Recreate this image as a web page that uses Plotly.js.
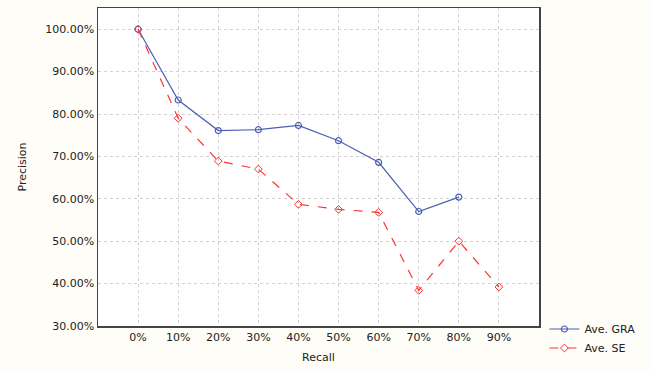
<!DOCTYPE html>
<html><head><meta charset="utf-8">
<script src="https://cdn.plot.ly/plotly-3.0.1.min.js"></script>
<style>html,body{margin:0;padding:0;background:#fffdf7;}#chart{width:652px;height:370px;}</style>
</head><body><div id="chart"></div>
<script>
var recall = ["0%","10%","20%","30%","40%","50%","60%","70%","80%","90%"];
var graValues = [100.0, 83.3, 76.1, 76.3, 77.3, 73.7, 68.6, 57.0, 60.4, null];
var seValues = [100.0, 79.0, 68.9, 67.0, 58.7, 57.5, 56.8, 38.4, 50.0, 39.2];
var yTicks = [30,40,50,60,70,80,90,100];
var yTickText = yTicks.map(function(v){return v.toFixed(2)+"%";});

var font = {family: "DejaVu Sans, Verdana, sans-serif", size: 11, color: "#222"};
var traces = [
  {x: recall, y: graValues, name: "Ave. GRA", type: "scatter", mode: "lines+markers",
   line: {color: "#4a5fb5", width: 1.2}, marker: {symbol: "circle-open", size: 6, color: "#4a5fb5", line:{width:1.2}}},
  {x: recall, y: seValues, name: "Ave. SE", type: "scatter", mode: "lines+markers",
   line: {color: "#ff3333", width: 1.2, dash: "dash"}, marker: {symbol: "diamond-open", size: 6, color: "#ff3333", line:{width:1}}}
];
var layout = {
  width: 652, height: 370,
  paper_bgcolor: "#fffdf7", plot_bgcolor: "#ffffff",
  margin: {l: 98, r: 113, t: 8, b: 44},
  font: font,
  showlegend: true,
  legend: {xref: "container", yref: "container", x: 0.835, xanchor: "left", y: 0.15, yanchor: "top",
    bgcolor: "rgba(0,0,0,0)", font: font, tracegroupgap: 0},
  xaxis: {type: "category", range: [-1, 10], showgrid: true, gridcolor: "#d2d2d2", griddash: "dot", gridwidth: 1,
    showline: true, linecolor: "#444", linewidth: 1.5, mirror: true, ticks: "", tickfont: font,
    title: {text: "Recall", font: font, standoff: 10}, zeroline: false, fixedrange: true},
  yaxis: {range: [30, 105], tickvals: yTicks, ticktext: yTickText, showgrid: true, gridcolor: "#d2d2d2", griddash: "dot",
    showline: true, linecolor: "#444", linewidth: 1.5, mirror: true, ticks: "", tickfont: font,
    title: {text: "Precision", font: font, standoff: 16}, zeroline: false, fixedrange: true}
};
Plotly.newPlot("chart", traces, layout, {staticPlot: true, displayModeBar: false});
</script></body></html>
